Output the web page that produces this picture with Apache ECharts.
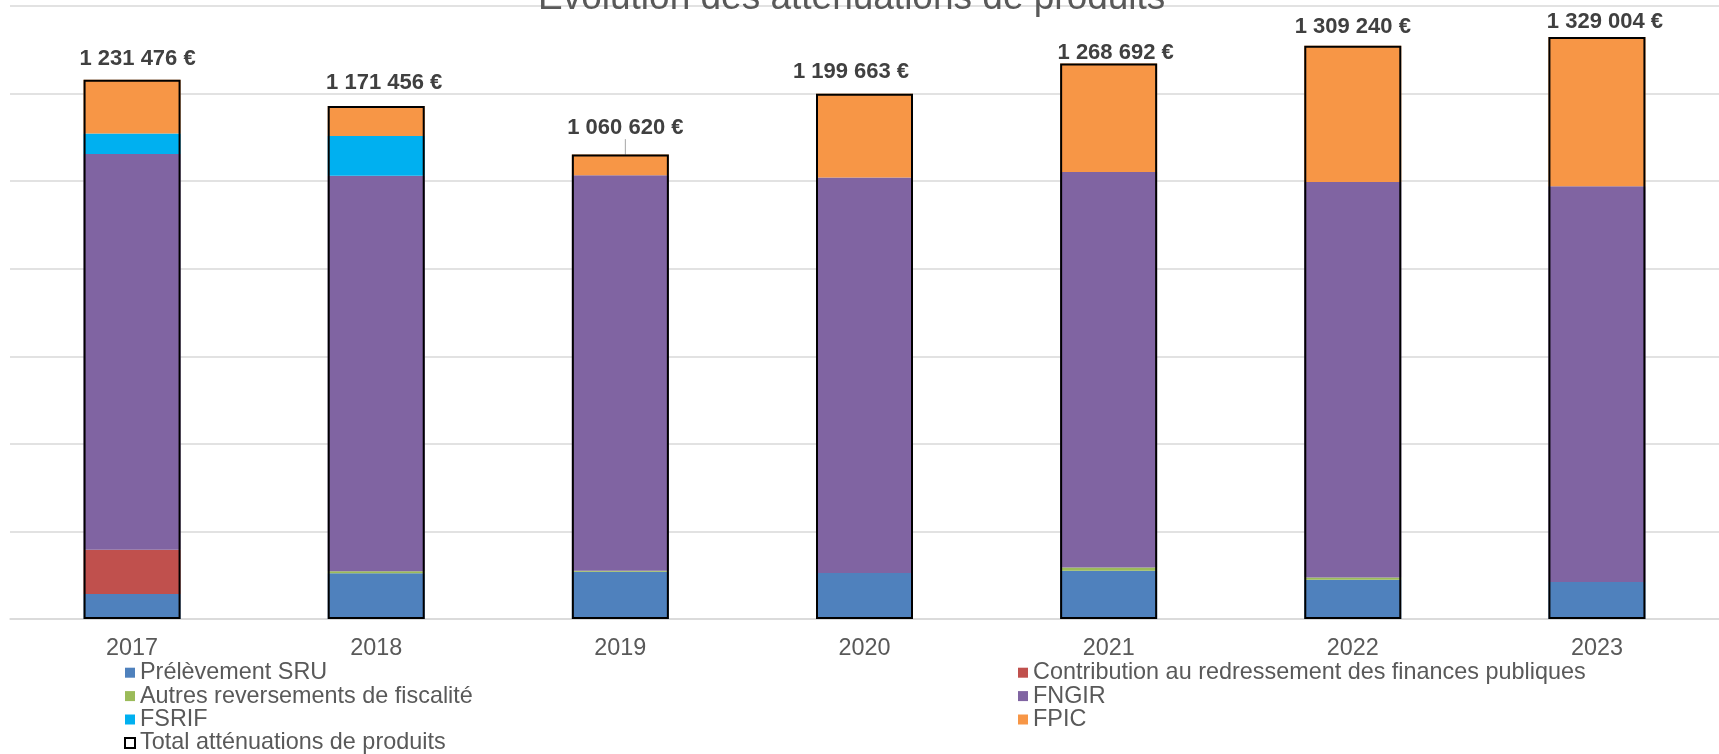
<!DOCTYPE html>
<html>
<head>
<meta charset="utf-8">
<script src="https://cdn.jsdelivr.net/npm/echarts@6/dist/echarts.min.js"></script>
<style>
html,body{margin:0;padding:0;background:#fff;}
#chart{width:1719px;height:754px;}
</style>
</head>
<body>
<div id="chart"></div>
<script>
const categories = ['2017', '2018', '2019', '2020', '2021', '2022', '2023'];
const prelevementSRU = [57100, 104500, 108100, 105100, 110400, 89800, 84600];
const contributionRFP = [101300, 0, 0, 0, 0, 0, 0];
const autresReversements = [0, 4600, 2000, 0, 7000, 5000, 0];
const fngir = [903500, 903500, 903500, 903500, 903500, 903500, 903500];
const fsrif = [47100, 90700, 0, 0, 0, 0, 0];
const fpic = [122500, 68100, 47000, 191000, 247800, 310900, 340900];
const totals = [1231476, 1171456, 1060620, 1199663, 1268692, 1309240, 1329004];
const yTicks = { min: 0, max: 1400000, interval: 200000 };

const FONT = "'Liberation Sans', Arial, sans-serif";
const names = {
  sru: 'Prélèvement SRU',
  crfp: 'Contribution au redressement des finances publiques',
  autres: 'Autres reversements de fiscalité',
  fngir: 'FNGIR',
  fsrif: 'FSRIF',
  fpic: 'FPIC',
  total: 'Total atténuations de produits'
};
function fmt(v) {
  return String(v).replace(/\B(?=(\d{3})+(?!\d))/g, ' ') + ' €';
}
const BW = 97;
function stackSeries(name, data, color) {
  return {
    name: name, type: 'bar', stack: 'a', data: data, barWidth: BW,
    itemStyle: { color: color }, emphasis: { disabled: true }, z: 2
  };
}
const labelNudge = [[5.5, 0], [8, -1.8], [5, -5.5], [-13.5, -0.4], [7, 10.2], [0, 2], [8, 5.7]];

const chart = echarts.init(document.getElementById('chart'), null, { renderer: 'canvas' });
chart.setOption({
  animation: false,
  backgroundColor: '#ffffff',
  title: {
    text: 'Évolution des atténuations de produits',
    left: 538, top: -20, padding: 0,
    textStyle: { fontFamily: FONT, fontSize: 37, fontWeight: 'normal', color: '#595959', lineHeight: 37 }
  },
  grid: { left: 10, right: -10, top: 6, bottom: 135, containLabel: false },
  legend: [
    {
      orient: 'vertical', left: 124, top: 661, height: 140, padding: 0, itemGap: 0,
      itemWidth: 10, itemHeight: 10, icon: 'rect',
      textStyle: { fontFamily: FONT, fontSize: 23.4, color: '#595959', lineHeight: 23.4 },
      data: [names.sru, names.autres, names.fsrif,
        { name: names.total, itemStyle: { color: '#ffffff', borderColor: '#000000', borderWidth: 2 } }]
    },
    {
      orient: 'vertical', left: 1018, top: 661, height: 140, padding: 0, itemGap: 0,
      itemWidth: 10, itemHeight: 10, icon: 'rect',
      textStyle: { fontFamily: FONT, fontSize: 23.4, color: '#595959', lineHeight: 23.4 },
      data: [names.crfp, names.fngir, names.fpic]
    }
  ],
  xAxis: {
    type: 'category', data: categories,
    axisTick: { show: false },
    axisLine: { lineStyle: { color: '#d9d9d9', width: 1.5 } },
    axisLabel: { fontFamily: FONT, fontSize: 23.4, color: '#595959', margin: 18, lineHeight: 23.4 }
  },
  yAxis: {
    type: 'value', min: yTicks.min, max: yTicks.max, interval: yTicks.interval,
    axisLabel: { show: false }, axisLine: { show: false }, axisTick: { show: false },
    splitLine: { lineStyle: { color: '#d9d9d9', width: 1.5 } }
  },
  series: [
    stackSeries(names.sru, prelevementSRU, '#4f81bd'),
    stackSeries(names.crfp, contributionRFP, '#c0504d'),
    stackSeries(names.autres, autresReversements, '#9bbb59'),
    stackSeries(names.fngir, fngir, '#8064a2'),
    stackSeries(names.fsrif, fsrif, '#00b0f0'),
    stackSeries(names.fpic, fpic, '#f79646'),
    {
      name: names.total, type: 'bar', barGap: '-100%', barWidth: BW, z: 5,
      data: totals.map(function (v, i) {
        return i === 2 ? { value: v, labelLine: { show: true, lineStyle: { color: '#a6a6a6', width: 1 } } } : { value: v };
      }),
      itemStyle: { color: 'rgba(0,0,0,0)', borderColor: '#000000', borderWidth: 2 },
      emphasis: { disabled: true },
      label: {
        show: true, position: 'top', distance: 10,
        fontFamily: FONT, fontSize: 22, fontWeight: 'bold', color: '#404040', lineHeight: 22,
        formatter: function (p) { return fmt(p.value); }
      },
      labelLine: { show: false },
      labelLayout: function (params) {
        const n = labelNudge[params.dataIndex];
        return { dx: n[0], dy: n[1] };
      }
    }
  ]
});
</script>
</body>
</html>
